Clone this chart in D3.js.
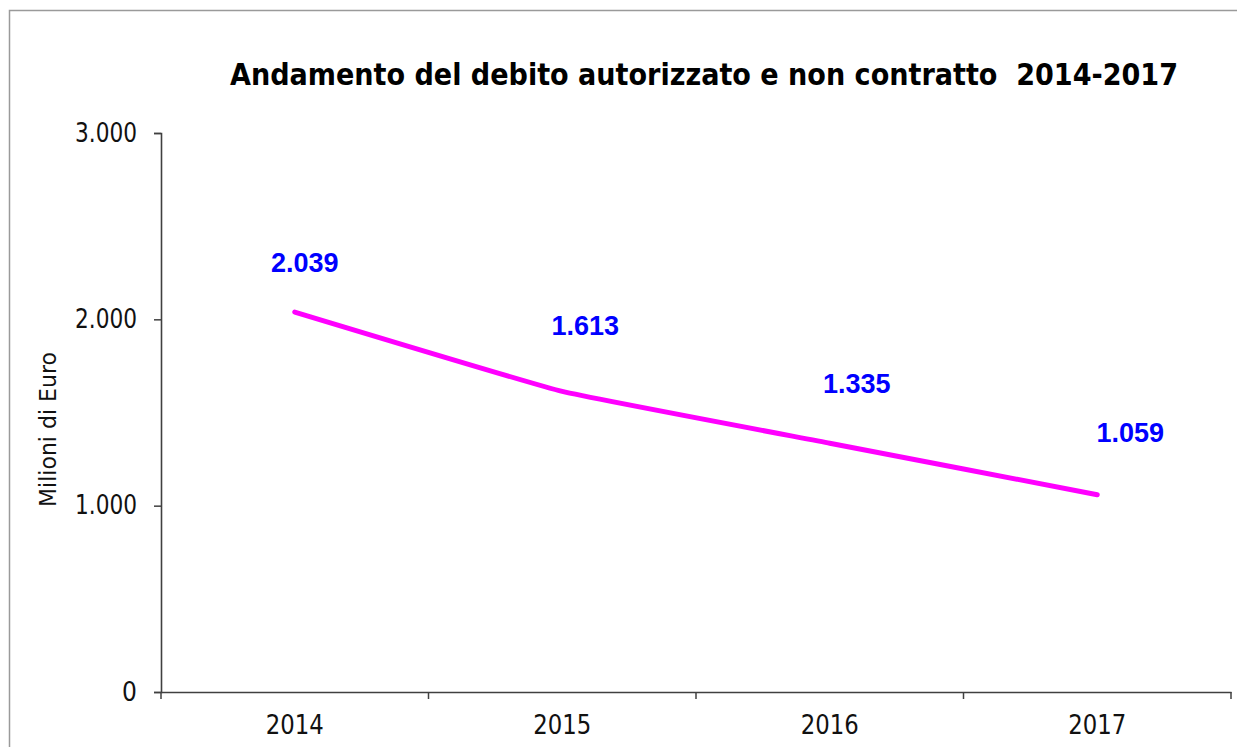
<!DOCTYPE html>
<html><head><meta charset="utf-8">
<script src="https://cdn.jsdelivr.net/npm/d3@7"></script>
<style>
html,body{margin:0;padding:0;background:#fff;}
svg{display:block;}
</style></head>
<body>
<svg id="chart" width="1237" height="747"></svg>
<script>
const categories = ["2014", "2015", "2016", "2017"];
const values = [2039, 1613, 1335, 1059];
const valueLabels = ["2.039", "1.613", "1.335", "1.059"];
const yTicks = [0, 1000, 2000, 3000];
const yTickLabels = ["0", "1.000", "2.000", "3.000"];
const titleText = "Andamento del debito autorizzato e non contratto  2014-2017";
const yAxisTitle = "Milioni di Euro";

const svg = d3.select("#chart");
const W = 1237, H = 747;
const plot = {left: 161, right: 1231, top: 133, bottom: 692};
const FONT = "'DejaVu Sans Condensed', 'DejaVu Sans', sans-serif";

// outer frame
svg.append("rect").attr("x", 9.5).attr("y", 10.5).attr("width", W + 20).attr("height", H + 20)
  .attr("fill", "none").attr("stroke", "#9a9a9a").attr("stroke-width", 1.5);

const x = d3.scaleBand().domain(categories).range([plot.left, plot.right]).padding(0);
const y = d3.scaleLinear().domain([0, 3000]).range([plot.bottom, plot.top]);

// title
svg.append("text").attr("x", 230).attr("y", 85)
  .attr("textLength", 948).attr("lengthAdjust", "spacingAndGlyphs")
  .style("white-space", "pre")
  .attr("font-family", FONT)
  .attr("font-weight", "bold").attr("font-size", 31).attr("fill", "#000")
  .text(titleText);

// y axis
const yAxis = d3.axisLeft(y).tickValues(yTicks)
  .tickFormat((d, i) => yTickLabels[i]).tickSizeOuter(0).tickSize(7).tickPadding(17);
const gy = svg.append("g").attr("transform", `translate(${plot.left},0)`).call(yAxis);
gy.select(".domain").attr("stroke", "#404040").attr("stroke-width", 1.6);
gy.selectAll(".tick line").attr("stroke", "#404040").attr("stroke-width", 1.5);
gy.selectAll(".tick text").attr("font-family", FONT)
  .attr("font-size", 26).attr("fill", "#111")
  .each(function(d, i) {
    if (yTickLabels[i].length > 1) d3.select(this).attr("textLength", 62).attr("lengthAdjust", "spacingAndGlyphs");
  });

// x axis
const xAxis = d3.axisBottom(x).tickSize(0).tickPadding(23);
const gx = svg.append("g").attr("transform", `translate(0,${plot.bottom})`).call(xAxis);
gx.select(".domain").attr("stroke", "#404040").attr("stroke-width", 1.6);
gx.selectAll(".tick text").attr("font-family", FONT)
  .attr("font-size", 27).attr("fill", "#111")
  .attr("textLength", 58).attr("lengthAdjust", "spacingAndGlyphs");
// category boundary ticks
const bounds = categories.map(c => x(c)).concat([x(categories[categories.length - 1]) + x.bandwidth()]);
gx.selectAll("line.bound").data(bounds).enter().append("line").attr("class", "bound")
  .attr("x1", d => d).attr("x2", d => d).attr("y1", 0).attr("y2", 7)
  .attr("stroke", "#404040").attr("stroke-width", 1.5);

// y axis title
svg.append("text")
  .attr("transform", `translate(56,${(352 + 507) / 2}) rotate(-90)`)
  .attr("text-anchor", "middle")
  .attr("textLength", 155).attr("lengthAdjust", "spacingAndGlyphs")
  .attr("font-family", FONT)
  .attr("font-size", 23).attr("fill", "#111")
  .text(yAxisTitle);

// line
const cx = c => x(c) + x.bandwidth() / 2;
const line = d3.line().x((d, i) => cx(categories[i])).y(d => y(d)).curve(d3.curveCardinal.tension(0.7));
svg.append("path").datum(values).attr("d", line)
  .attr("fill", "none").attr("stroke", "#ff00ff").attr("stroke-width", 5)
  .attr("stroke-linecap", "round").attr("stroke-linejoin", "round");

// data labels (nudged above-right of each point, as in the original layout)
const labelNudge = [[10, -50], [23, -66], [27, -60], [33, -63]];
svg.selectAll("text.dl").data(values).enter().append("text").attr("class", "dl")
  .attr("x", (d, i) => cx(categories[i]) + labelNudge[i][0])
  .attr("y", (d, i) => y(d) + labelNudge[i][1] + 10)
  .attr("text-anchor", "middle")
  .attr("font-family", "'Liberation Sans', Arial, sans-serif")
  .attr("font-weight", "bold").attr("font-size", 27).attr("fill", "#0000ff")
  .text((d, i) => valueLabels[i]);
</script>
</body></html>
